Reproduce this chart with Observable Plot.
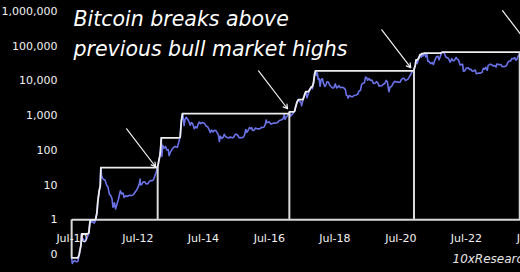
<!DOCTYPE html>
<html><head><meta charset="utf-8">
<script src="https://cdn.jsdelivr.net/npm/d3@7"></script>
<script src="https://cdn.jsdelivr.net/npm/@observablehq/plot@0.6"></script>
<style>
html,body{margin:0;padding:0;background:#000;overflow:hidden;width:520px;height:272px}
svg{overflow:hidden}
</style>
</head><body><div id="chart"></div>
<script>
// Bitcoin price (USD)
const btcPrice = [
["2010-07-18",0.08],["2010-07-25",0.055],["2010-08-05",0.062],["2010-08-20",0.067],["2010-09-05",0.062],["2010-09-25",0.063],
["2010-10-10",0.10],["2010-10-30",0.19],["2010-11-06",0.39],["2010-11-15",0.27],["2010-11-25",0.28],["2010-12-08",0.23],["2010-12-20",0.25],
["2011-01-05",0.30],["2011-01-25",0.42],["2011-02-09",1.00],["2011-02-20",0.85],["2011-03-05",0.90],["2011-03-25",0.80],["2011-04-10",0.95],
["2011-04-25",1.6],["2011-05-05",3.4],["2011-05-20",6.8],["2011-06-01",9.5],["2011-06-08",31.9],["2011-06-15",19],["2011-06-25",16],
["2011-07-10",14.5],["2011-07-25",13.8],["2011-08-10",10],["2011-08-25",9],["2011-09-10",5.5],["2011-09-25",5],["2011-10-10",4.0],
["2011-10-20",2.3],["2011-11-05",3.1],["2011-11-18",2.05],["2011-12-05",2.9],["2011-12-20",3.9],
["2012-01-10",6.8],["2012-01-25",5.6],["2012-02-10",5.9],["2012-02-20",4.4],["2012-03-10",4.9],["2012-03-25",4.7],["2012-04-10",4.9],
["2012-04-25",5.1],["2012-05-10",5.0],["2012-05-25",5.1],["2012-06-10",5.6],["2012-06-25",6.4],["2012-07-10",7.2],["2012-07-25",8.7],
["2012-08-10",11.5],["2012-08-17",14.8],["2012-08-20",10],["2012-09-05",10.6],["2012-09-20",12.4],["2012-10-05",12.4],["2012-10-25",10.8],
["2012-11-10",10.9],["2012-11-25",12.4],["2012-12-10",13.5],["2012-12-25",13.4],
["2013-01-10",14],["2013-01-25",17.5],["2013-02-10",23],["2013-02-28",33.4],["2013-03-10",46],["2013-03-25",72],["2013-04-01",104],
["2013-04-09",230],["2013-04-16",68],["2013-04-25",140],["2013-05-10",115],["2013-05-25",130],["2013-06-10",103],["2013-06-25",105],
["2013-07-05",70],["2013-07-20",90],["2013-08-05",105],["2013-08-25",122],["2013-09-10",130],["2013-09-25",125],["2013-10-05",123],
["2013-10-20",170],["2013-11-05",240],["2013-11-18",700],["2013-11-30",1130],["2013-12-04",1150],["2013-12-18",520],["2013-12-28",750],
["2014-01-10",900],["2014-01-25",800],["2014-02-10",680],["2014-02-25",530],["2014-03-10",630],["2014-03-25",580],["2014-04-10",420],
["2014-04-25",480],["2014-05-10",440],["2014-05-25",580],["2014-06-05",650],["2014-06-20",590],["2014-07-05",630],["2014-07-20",620],
["2014-08-05",590],["2014-08-20",500],["2014-09-05",480],["2014-09-20",410],["2014-10-05",325],["2014-10-20",385],["2014-11-05",340],
["2014-11-20",380],["2014-12-05",375],["2014-12-20",325],
["2015-01-05",275],["2015-01-14",180],["2015-01-25",255],["2015-02-10",220],["2015-02-25",238],["2015-03-10",290],["2015-03-25",247],
["2015-04-10",237],["2015-04-25",225],["2015-05-10",240],["2015-05-25",237],["2015-06-10",229],["2015-06-25",243],["2015-07-10",290],
["2015-07-25",290],["2015-08-10",265],["2015-08-20",230],["2015-09-05",235],["2015-09-20",232],["2015-10-05",240],["2015-10-20",270],
["2015-11-04",400],["2015-11-15",330],["2015-12-01",380],["2015-12-15",455],["2015-12-28",420],
["2016-01-10",450],["2016-01-16",380],["2016-02-01",375],["2016-02-20",440],["2016-03-10",415],["2016-03-25",415],["2016-04-10",420],
["2016-04-25",460],["2016-05-10",455],["2016-05-25",470],["2016-06-10",580],["2016-06-17",750],["2016-06-25",630],["2016-07-10",650],
["2016-07-25",655],["2016-08-05",580],["2016-08-20",580],["2016-09-05",610],["2016-09-20",610],["2016-10-05",612],["2016-10-20",630],
["2016-11-05",700],["2016-11-20",740],["2016-12-05",760],["2016-12-20",800],["2016-12-31",960],
["2017-01-04",1130],["2017-01-12",780],["2017-01-25",900],["2017-02-10",990],["2017-02-25",1140],["2017-03-03",1280],["2017-03-18",970],
["2017-04-01",1080],["2017-04-15",1180],["2017-04-30",1350],["2017-05-10",1750],["2017-05-25",2400],["2017-06-10",2900],["2017-06-25",2550],
["2017-07-10",2400],["2017-07-16",1920],["2017-07-30",2750],["2017-08-10",3400],["2017-08-20",4100],["2017-09-01",4900],["2017-09-15",3250],
["2017-09-30",4350],["2017-10-12",5450],["2017-10-20",6000],["2017-11-01",6750],["2017-11-12",5950],["2017-11-25",8700],["2017-12-07",15000],
["2017-12-17",19500],["2017-12-28",14500],
["2018-01-06",17000],["2018-01-17",11000],["2018-01-28",11500],["2018-02-06",7000],["2018-02-20",11200],["2018-03-05",11500],["2018-03-18",8200],
["2018-04-01",6900],["2018-04-15",8000],["2018-04-25",9500],["2018-05-10",9300],["2018-05-25",7500],["2018-06-10",6800],["2018-06-25",6250],
["2018-07-10",6400],["2018-07-25",8200],["2018-08-10",6300],["2018-08-25",6700],["2018-09-05",7300],["2018-09-20",6400],["2018-10-10",6600],
["2018-10-25",6400],["2018-11-15",5600],["2018-11-25",3900],["2018-12-05",3800],["2018-12-15",3200],["2018-12-28",3800],
["2019-01-15",3600],["2019-01-28",3450],["2019-02-10",3650],["2019-02-25",3850],["2019-03-15",3950],["2019-03-30",4100],["2019-04-15",5100],
["2019-04-30",5300],["2019-05-15",8000],["2019-05-30",8600],["2019-06-15",8900],["2019-06-26",12900],["2019-07-10",12300],["2019-07-20",10500],
["2019-08-05",11700],["2019-08-20",10300],["2019-09-05",10600],["2019-09-25",8400],["2019-10-10",8600],["2019-10-26",9500],["2019-11-10",8800],
["2019-11-25",7100],["2019-12-10",7250],["2019-12-25",7250],
["2020-01-10",8050],["2020-01-25",8400],["2020-02-12",10350],["2020-02-25",9300],["2020-03-12",4900],["2020-03-25",6700],["2020-04-10",6900],
["2020-04-30",8700],["2020-05-15",9700],["2020-05-30",9450],["2020-06-15",9400],["2020-06-30",9150],["2020-07-15",9200],["2020-07-30",11100],
["2020-08-15",11900],["2020-08-30",11700],["2020-09-10",10300],["2020-09-25",10700],["2020-10-10",11300],["2020-10-25",13100],["2020-11-10",15300],
["2020-11-25",19000],["2020-12-10",18300],["2020-12-16",21000],["2020-12-31",29000],
["2021-01-08",40500],["2021-01-22",32000],["2021-02-08",46000],["2021-02-21",57500],["2021-03-05",48000],["2021-03-13",61000],["2021-03-25",52000],
["2021-04-13",63500],["2021-04-25",49000],["2021-05-08",58000],["2021-05-19",37000],["2021-06-01",36500],["2021-06-21",31500],["2021-07-05",34000],
["2021-07-20",29800],["2021-08-05",40000],["2021-08-22",49000],["2021-09-06",51800],["2021-09-21",40500],["2021-10-05",51500],["2021-10-20",66000],
["2021-11-09",67500],["2021-11-25",57000],["2021-12-05",49000],["2021-12-20",46700],
["2022-01-05",43500],["2022-01-22",35000],["2022-02-10",44000],["2022-02-24",38000],["2022-03-10",39000],["2022-03-29",47500],["2022-04-10",42500],
["2022-04-25",40000],["2022-05-12",29000],["2022-05-25",29500],["2022-06-10",30000],["2022-06-18",19000],["2022-07-01",19300],["2022-07-20",23500],
["2022-08-10",23900],["2022-08-25",21500],["2022-09-10",21700],["2022-09-25",19000],["2022-10-10",19300],["2022-10-28",20600],["2022-11-09",16000],
["2022-11-20",16300],["2022-12-05",17000],["2022-12-25",16800],
["2023-01-10",17400],["2023-01-25",23000],["2023-02-10",21800],["2023-02-20",24800],["2023-03-10",20200],["2023-03-20",28000],["2023-04-14",30400],
["2023-04-30",29200],["2023-05-15",27200],["2023-05-30",27700],["2023-06-15",25100],["2023-06-25",30500],["2023-07-10",30200],["2023-07-25",29200],
["2023-08-10",29400],["2023-08-20",26100],["2023-09-10",25800],["2023-09-25",26300],["2023-10-10",27400],["2023-10-25",34500],["2023-11-10",37300],
["2023-11-25",37800],["2023-12-08",43800],["2023-12-25",43500],
["2024-01-11",46500],["2024-01-22",39500],["2024-02-05",42600],["2024-02-15",51800],["2024-02-28",57000],["2024-03-03",62000]
];
// dates where Bitcoin broke above the previous bull-market high
const breakoutDates = ["2010-07-18","2013-02-28","2017-03-02","2020-12-16","2024-03-05"];
// arrow tips (annotation) : date, value
const arrowTipDates = ["2013-02-05","2017-02-10","2020-11-10","2024-07-14"];
const arrowTipValues = [33.7,1580,24000,85000];
const yTickValues = [0.1,1,10,100,1000,10000,100000,1000000];
const xTickLabels = ["Jul-10","Jul-12","Jul-14","Jul-16","Jul-18","Jul-20","Jul-22","Jul-24"];
const titleLines = ["Bitcoin breaks above","previous bull market highs"];
const watermark = "10xResearch";

const parse = d3.utcParse("%Y-%m-%d");
const price = btcPrice.map(([d,v]) => ({date: parse(d), value: v}));
let m = 0;
const ath = price.map(d => (m = Math.max(m, d.value), {date: d.date, value: m}));
const prevHigh = date => d3.max(price.filter(p => p.date < date), p => p.value) ?? price[0].value;
const breakouts = breakoutDates.map(s => { const d = parse(s); return {date: d, top: prevHigh(d) || price[0].value}; });
breakouts[0].top = price[0].value;
const arrows = arrowTipDates.map((s,i) => { const d = parse(s); return {x2: d, y2: arrowTipValues[i], x1: d3.utcDay.offset(d, -322), y1: arrowTipValues[i]*12.4}; });
const xTicks = xTickLabels.map(l => d3.utcParse("%b-%y")(l)).map(d => d3.utcDay.offset(d, 21));

const font = "'DejaVu Sans', sans-serif";
const chart = Plot.plot({
  width: 520, height: 272,
  marginLeft: 72, marginRight: 0, marginTop: 0, marginBottom: 53,
  style: {background: "#000", color: "#f2f2f2", fontFamily: font, fontSize: "11px", overflow: "hidden"},
  x: {type: "utc", domain: [parse("2010-07-22"), parse("2024-07-22")], range: [71.5, 531.75]},
  y: {type: "log", domain: [0.1, 1e6], range: [254, 11]},
  marks: [
    Plot.ruleY([1], {stroke: "#d9d9d9", strokeWidth: 2}),
    Plot.line(price, {x: "date", y: "value", stroke: "#6a72e8", strokeWidth: 1.6}),
    Plot.line(ath, {x: "date", y: "value", stroke: "#ededed", strokeWidth: 1.8}),
    Plot.ruleX(breakouts, {x: "date", y1: 1, y2: "top", stroke: "#d9d9d9", strokeWidth: 2}),
    Plot.arrow(arrows, {x1: "x1", y1: "y1", x2: "x2", y2: "y2", stroke: "#f2f2f2", strokeWidth: 1.2, headLength: 6, bend: 0}),
    Plot.axisY({ticks: yTickValues, tickFormat: d3.format(",.0f"), tickSize: 0, tickPadding: 15, fill: "#f2f2f2", fontSize: 11}),
    Plot.axisX({ticks: xTicks, tickFormat: d3.utcFormat("%b-%y"), tickSize: 0, tickPadding: 15, fill: "#f2f2f2", fontSize: 11}),
    Plot.text([titleLines.join("\n")], {frameAnchor: "top-left", textAnchor: "start", lineAnchor: "top", dx: 1, dy: 4, lineHeight: 1.46,
      fontSize: 20.5, fontStyle: "italic", fontWeight: 200, fill: "#fff", fontFamily: font}),
    Plot.text([watermark], {frameAnchor: "bottom-right", textAnchor: "start", lineAnchor: "middle", dx: -68, dy: 40,
      fontSize: 12, fontStyle: "italic", fill: "#e6e6e6", fontFamily: font})
  ]
});
document.getElementById("chart").appendChild(chart);
</script></body></html>
